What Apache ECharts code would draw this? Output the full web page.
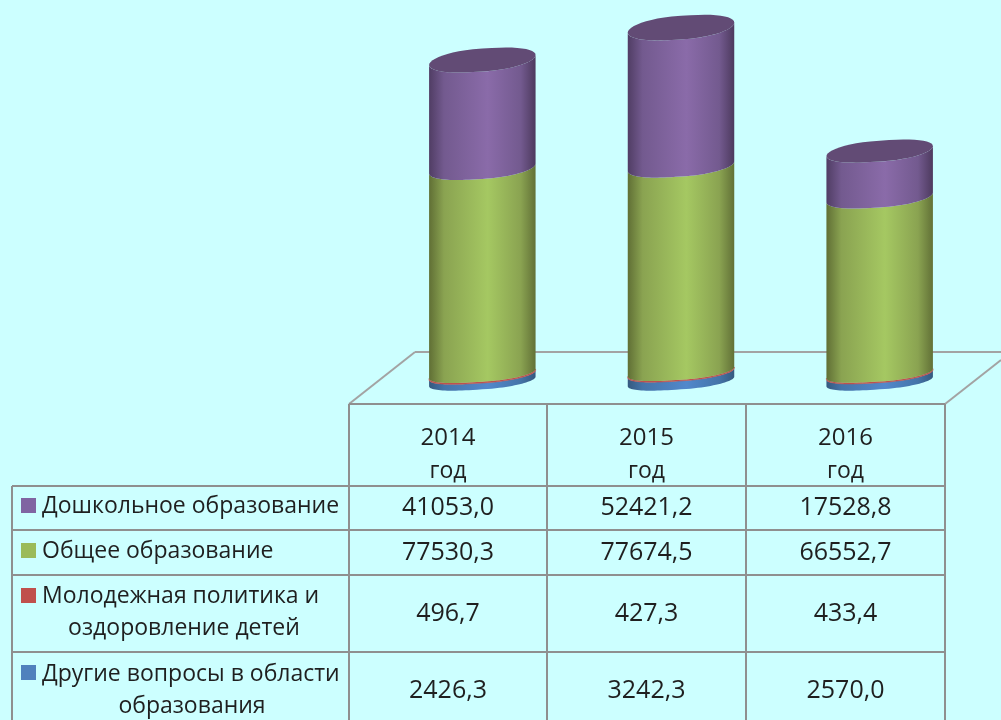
<!DOCTYPE html>
<html>
<head>
<meta charset="utf-8">
<title>Расходы на образование</title>
<style>
  html, body { margin: 0; padding: 0; background: #ccffff; }
  #chart { width: 1001px; height: 720px; }
</style>
<script src="https://cdn.jsdelivr.net/npm/echarts@6/dist/echarts.min.js"></script>
</head>
<body>
<div id="chart"></div>
<script>
// значения в том же порядке, что и строки таблицы (сверху вниз)
const years = ['2014', '2015', '2016'];
const yearSuffix = 'год';
const preschool = [41053.0, 52421.2, 17528.8];
const general = [77530.3, 77674.5, 66552.7];
const youth = [496.7, 427.3, 433.4];
const other = [2426.3, 3242.3, 2570.0];

const rowLabels = [
    ['Дошкольное образование'],
    ['Общее образование'],
    ['Молодежная политика и', 'оздоровление детей'],
    ['Другие вопросы в области', 'образования']
];
const rowValues = [preschool, general, youth, other];

const swatchColors = ['#8064a2', '#9bbb59', '#c0504d', '#4f81bd'];

function shade(edgeL, side, mid, edgeR) {
    return new echarts.graphic.LinearGradient(0, 0, 1, 0, [
        { offset: 0, color: edgeL },
        { offset: 0.14, color: side },
        { offset: 0.55, color: mid },
        { offset: 0.86, color: side },
        { offset: 1, color: edgeR }
    ]);
}

// стопка снизу вверх
const stack = [
    { name: 'Другие вопросы', data: other, fill: shade('#35597f', '#4474a8', '#5288cc', '#35597f') },
    { name: 'Молодежная политика', data: youth, fill: '#c0504d', stroke: '#c0504d' },
    { name: 'Общее образование', data: general, fill: shade('#606f35', '#8aa351', '#a5c862', '#627137') },
    { name: 'Дошкольное образование', data: preschool, fill: shade('#503d64', '#735a8f', '#8a6ba9', '#4d3a5e') }
];

const gridBottomY = 381.5;
const gridTopY = 11.1;

// наклонённый эллипс: чем выше сечение, тем он шире раскрыт
function ellipseAt(cx, cy, a) {
    const rise = (gridBottomY - cy) / (gridBottomY - 60);
    const tilt = 4.8 + 0.2 * rise;
    const extent = 9.2 + 3.3 * rise;
    const b = Math.sqrt(extent * extent - tilt * tilt);
    return function (t) {
        // степень < 1 даёт более скруглённые концы, как на исходной картинке
        const c = Math.cos(t);
        const sx = Math.sign(c) * Math.pow(Math.abs(c), 0.85);
        return [cx + a * sx, cy + b * Math.sin(t) - tilt * c];
    };
}

function arc(fn, from, to) {
    const pts = [];
    const n = 48;
    for (let i = 0; i <= n; i++) {
        pts.push(fn(from + (to - from) * i / n));
    }
    return pts;
}

function cylinderItem(seriesIdx) {
    return function (params, api) {
        const low = api.coord([api.value(0), api.value(1)]);
        const high = api.coord([api.value(0), api.value(2)]);
        const a = api.size([1, 0])[0] * 0.268;
        const bottom = ellipseAt(low[0], low[1], a);
        const top = ellipseAt(high[0], high[1], a);
        const s = stack[seriesIdx];
        // передняя стенка: нижняя дуга слева направо, верхняя обратно
        const wall = arc(bottom, Math.PI, 0).concat(arc(top, 0, Math.PI));
        const children = [{
            type: 'polygon',
            shape: { points: wall },
            style: { fill: s.fill, stroke: s.stroke || null, lineWidth: 0.6 }
        }];
        if (seriesIdx === stack.length - 1) {
            children.push({
                type: 'polygon',
                shape: { points: arc(top, 0, Math.PI * 2) },
                style: { fill: '#624b75' }
            });
        }
        return { type: 'group', children: children };
    };
}

const cumulative = years.map(() => 0);
const series = stack.map((s, si) => {
    const rows = s.data.map((v, i) => {
        const row = [i, cumulative[i], cumulative[i] + v];
        cumulative[i] += v;
        return row;
    });
    return {
        type: 'custom',
        name: s.name,
        coordinateSystem: 'cartesian2d',
        renderItem: cylinderItem(si),
        encode: { x: 0, y: [1, 2] },
        clip: false,
        silent: true,
        data: rows
    };
});

// таблица под диаграммой
const lineColor = '#8f8f8f';
const floorColor = '#a3a3a3';
const colX = [349, 547, 746, 945];
const rowY = [404, 486, 530, 575, 652];
const tableLeft = 12;
const fontFamily = '"Open Sans", "Noto Sans", sans-serif';

function line(x1, y1, x2, y2, color) {
    return {
        type: 'line',
        silent: true,
        shape: { x1: x1, y1: y1, x2: x2, y2: y2 },
        style: { stroke: color || lineColor, lineWidth: 2 }
    };
}

function label(text, x, y, align, size) {
    return {
        type: 'text',
        silent: true,
        x: x,
        y: y,
        style: {
            text: text,
            font: (size || 23) + 'px ' + fontFamily,
            fill: '#1f1f1f',
            align: align || 'center',
            verticalAlign: 'middle'
        }
    };
}

const graphics = [];

// пол
graphics.push(line(349, 404, 415, 352, floorColor));
graphics.push(line(415, 352, 1001, 352, floorColor));
graphics.push(line(945, 404, 1001, 360, floorColor));

// сетка таблицы
graphics.push(line(colX[0], rowY[0], colX[3], rowY[0]));
rowY.slice(1).forEach(y => graphics.push(line(tableLeft, y, colX[3], y)));
colX.forEach(x => graphics.push(line(x, rowY[0], x, 720)));
graphics.push(line(tableLeft, rowY[1], tableLeft, 720));

// заголовки столбцов
years.forEach((y, i) => {
    const cx = (colX[i] + colX[i + 1]) / 2;
    graphics.push(label(y, cx, 438, 'center', 24));
    graphics.push(label(yearSuffix, cx, 471));
});

// строки
const swatchY = [498, 543, 588, 665];
const labelY = [[506], [551], [596, 628], [674, 706]];
const valueY = [508, 553, 614, 691];
const labelCenter = [null, null, 184, 192];

rowLabels.forEach((lines, r) => {
    graphics.push({
        type: 'rect',
        silent: true,
        shape: { x: 21, y: swatchY[r], width: 15, height: 15 },
        style: { fill: swatchColors[r] }
    });
    graphics.push(label(lines[0], 42, labelY[r][0], 'left'));
    if (lines[1]) {
        graphics.push(label(lines[1], labelCenter[r], labelY[r][1]));
    }
    rowValues[r].forEach((v, i) => {
        const cx = (colX[i] + colX[i + 1]) / 2;
        graphics.push(label(v.toFixed(1).replace('.', ','), cx, valueY[r], 'center', 25));
    });
});

const chart = echarts.init(document.getElementById('chart'));
chart.setOption({
    animation: false,
    backgroundColor: '#ccffff',
    grid: { left: 383, width: 596, top: gridTopY, height: gridBottomY - gridTopY },
    xAxis: { type: 'category', data: years, show: false },
    yAxis: { type: 'value', min: 0, max: 140000, show: false },
    series: series,
    graphic: { elements: graphics }
});
</script>
</body>
</html>
